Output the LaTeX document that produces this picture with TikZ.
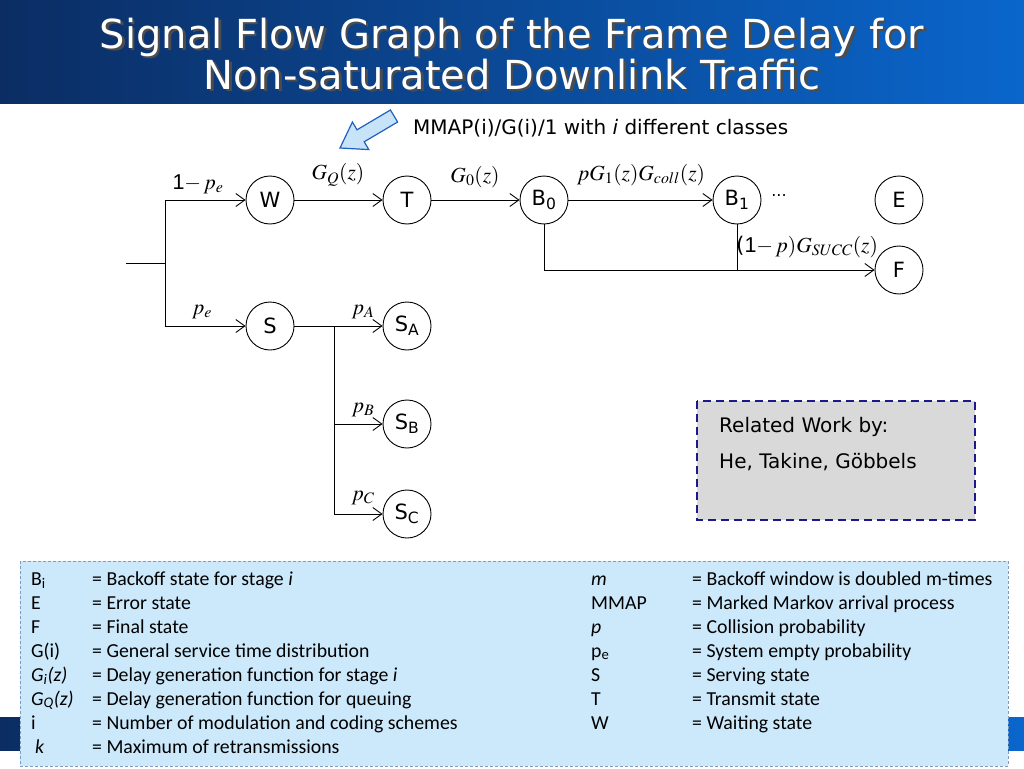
\documentclass[tikz,border=0pt]{standalone}
\usepackage{mathptmx}
\usepackage{fontspec}
\setmainfont{DejaVu Sans}
\newfontfamily\legfont{Carlito}
\newfontfamily\arialfont{Liberation Sans}
\usetikzlibrary{arrows.meta}
\definecolor{navy}{HTML}{0B2D63}
\definecolor{brightblue}{HTML}{0A66CC}
\definecolor{legfill}{HTML}{CCE8FB}
\definecolor{legborder}{HTML}{7F9BBF}
\definecolor{callfill}{HTML}{C6E3F8}
\definecolor{callstroke}{HTML}{2060C0}
\definecolor{boxborder}{HTML}{1A1A8C}
\tikzset{
  state/.style={circle, draw, line width=0.9pt, minimum size=48pt, inner sep=0pt, font=\fontsize{21}{23}\selectfont},
  arr/.style={-{Straight Barb[length=9pt,width=13pt]}, line width=0.9pt},
  ln/.style={line width=0.9pt},
  lab/.style={inner sep=0pt, font=\fontsize{21.5}{24}\selectfont},
  legl/.style={anchor=base west, inner sep=0pt, font=\legfont\fontsize{19.8}{22}\selectfont},
  body/.style={anchor=west, inner sep=0pt, font=\fontsize{20}{22}\selectfont},
}
\begin{document}
\begin{tikzpicture}[x=1pt,y=-1pt]
\useasboundingbox (0,0) rectangle (1024,768);
% title bar
\shade[left color=navy, right color=brightblue] (0,0) rectangle (1024,103);
\node[text=black!70, font=\fontsize{40}{41}\selectfont, align=center] (titleshadow) at (514.5,56.5) {Signal Flow Graph of the Frame Delay for\\Non-saturated Downlink Traffic};
\node[text=white, font=\fontsize{40}{41}\selectfont, align=center] (title) at (512,54) {Signal Flow Graph of the Frame Delay for\\Non-saturated Downlink Traffic};
% bottom bar
\shade[left color=navy, right color=brightblue] (0,717) rectangle (1024,750);
% callout arrow
\draw[fill=callfill, draw=callstroke, line width=1.2pt, line join=miter]
  (390.4,110.0) -- (357.0,129.8) -- (352.4,122.0) -- (340,148) -- (368.8,149.6) -- (364.2,141.8) -- (397.6,122.0) -- cycle;
\node[body] (mmap) at (413,128) {MMAP(i)/G(i)/1 with \textit{i} different classes};
% states
\node[state] (W) at (270,200) {W};
\node[state] (T) at (407,200) {T};
\node[state] (B0) at (544,200) {B\textsubscript{0}};
\node[state] (B1) at (737,200) {B\textsubscript{1}};
\node[state] (E) at (899,200) {E};
\node[state] (F) at (899,270) {F};
\node[state] (S) at (270,326) {S};
\node[state] (SA) at (407,326) {S\textsubscript{A}};
\node[state] (SB) at (407,424) {S\textsubscript{B}};
\node[state] (SC) at (407,514) {S\textsubscript{C}};
% connectors
\coordinate (in) at (126,263);
\coordinate (split) at (165,263);
\draw[ln] (in) -- (split);
\draw[arr] (split) |- (W);
\draw[arr] (split) |- (S);
\draw[arr] (W) -- (T);
\draw[arr] (T) -- (B0);
\draw[arr] (B0) -- (B1);
\draw[arr] (B0.south) |- (F);
\coordinate (b1j) at (737,270);
\draw[ln] (B1.south) -- (b1j);
\coordinate (sj) at (334,326);
\draw[ln] (S) -- (sj);
\draw[arr] (sj) -- (SA);
\draw[arr] (sj) |- (SB);
\draw[arr] (sj) |- (SC);
% labels
\node[lab] (l1) at (198,184) {{\arialfont 1}$-\,p_e$};
\node[lab] (l2) at (338,175) {$G_Q(z)$};
\node[lab] (l3) at (475,177) {$G_0(z)$};
\node[lab] (l4) at (641,175) {$pG_1(z)G_{coll}(z)$};
\node[inner sep=0pt, font=\fontsize{16}{18}\selectfont] (dots) at (779,196) {...};
\node[lab] (l5) at (807,247) {({\arialfont 1}$-\,p)G_{SUCC}(z)$};
\node[lab] (l6) at (202,312) {$p_e$};
\node[lab] (lA) at (363,312) {$p_A$};
\node[lab] (lB) at (363,410) {$p_B$};
\node[lab] (lC) at (363,498) {$p_C$};
% related work box
\draw[fill=black!15, draw=boxborder, line width=2pt, dash pattern=on 8pt off 5pt] (697,401) rectangle (975,520);
\node[body] (rw1) at (719,427) {Related Work by:};
\node[body] (rw2) at (719,462) {He, Takine, Göbbels};
% legend
\draw[fill=legfill, draw=legborder, line width=0.8pt, dash pattern=on 3pt off 2pt] (20,561) rectangle (1008,766);
\node[legl] (a1) at (31,585) {B\textsubscript{i}};
\node[legl] (b1) at (92,585) {= Backoff state for stage \textit{i}};
\node[legl] (a2) at (31,609) {E};
\node[legl] (b2) at (92,609) {= Error state};
\node[legl] (a3) at (31,633) {F};
\node[legl] (b3) at (92,633) {= Final state};
\node[legl] (a4) at (31,657) {G(i)};
\node[legl] (b4) at (92,657) {= General service time distribution};
\node[legl] (a5) at (31,681) {\textit{G\textsubscript{i}(z)}};
\node[legl] (b5) at (92,681) {= Delay generation function for stage \textit{i}};
\node[legl] (a6) at (31,705) {\textit{G\textsubscript{Q}(z)}};
\node[legl] (b6) at (92,705) {= Delay generation function for queuing};
\node[legl] (a7) at (31,729) {i};
\node[legl] (b7) at (92,729) {= Number of modulation and coding schemes};
\node[legl] (a8) at (35,753) {\textit{k}};
\node[legl] (b8) at (92,753) {= Maximum of retransmissions};
\node[legl] (c1) at (591,585) {\textit{m}};
\node[legl] (d1) at (692,585) {= Backoff window is doubled m-times};
\node[legl] (c2) at (591,609) {MMAP};
\node[legl] (d2) at (692,609) {= Marked Markov arrival process};
\node[legl] (c3) at (591,633) {\textit{p}};
\node[legl] (d3) at (692,633) {= Collision probability};
\node[legl] (c4) at (591,657) {p\textsubscript{e}};
\node[legl] (d4) at (692,657) {= System empty probability};
\node[legl] (c5) at (591,681) {S};
\node[legl] (d5) at (692,681) {= Serving state};
\node[legl] (c6) at (591,705) {T};
\node[legl] (d6) at (692,705) {= Transmit state};
\node[legl] (c7) at (591,729) {W};
\node[legl] (d7) at (692,729) {= Waiting state};
\end{tikzpicture}
\end{document}
